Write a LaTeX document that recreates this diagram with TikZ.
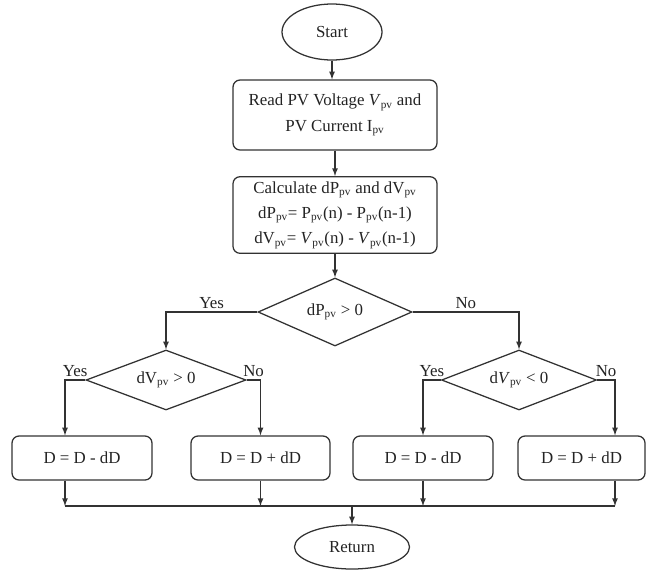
\documentclass[tikz,border=0pt]{standalone}
\usepackage{fontspec}
\setmainfont{Liberation Serif}
\usetikzlibrary{shapes.geometric, arrows, positioning}
\definecolor{linecolor}{RGB}{50,50,50}
\definecolor{textcolor}{RGB}{35,35,35}

\begin{document}
\begin{tikzpicture}[font=\fontsize{12}{18}\selectfont, text=textcolor]
  \tikzset{
    terminal/.style={
      draw=linecolor,
      ellipse,
      line width=0.9pt,
      inner sep=0pt
    },
    process/.style={
      draw=linecolor,
      rounded corners=5pt,
      line width=0.9pt,
      minimum width=5.1cm,
      align=center
    },
    decision/.style={
      draw=linecolor,
      diamond,
      aspect=2.3,
      line width=0.9pt,
      inner sep=0pt
    },
    action/.style={
      draw=linecolor,
      rounded corners=5pt,
      line width=0.9pt,
      minimum height=1.1cm
    },
    flow/.style={
      draw=linecolor,
      line width=0.9pt,
      -latex
    },
    answer/.style={
      above,
      pos=0.25,
      inner sep=2pt
    }
  }
  \useasboundingbox (0,0) rectangle (16.2,-14.225);

  % Start and input
  \node[terminal, minimum width=2.5cm, minimum height=1.4cm] at (8.3,-0.8) (start) {Start};
  \node[process, minimum height=1.75cm] at (8.375,-2.875) (read) {
    Read PV Voltage \textit{V}\textsubscript{pv} and\\
    PV Current I\textsubscript{pv}
  };
  \node[process, minimum height=1.875cm] at (8.375,-5.375) (calc) {
    Calculate dP\textsubscript{pv} and dV\textsubscript{pv}\\
    dP\textsubscript{pv}= P\textsubscript{pv}(n) - P\textsubscript{pv}(n-1)\\
    dV\textsubscript{pv}= \textit{V}\textsubscript{pv}(n) - \textit{V}\textsubscript{pv}(n-1)
  };

  % Decisions
  \node[decision, minimum width=3.85cm, minimum height=1.7cm] at (8.375,-7.8) (dpcheck) {dP\textsubscript{pv} > 0};
  \node[decision, minimum width=4.0cm, minimum height=1.5cm] at (4.15,-9.5) (dvpos) {dV\textsubscript{pv} > 0};
  \node[decision, minimum width=3.875cm, minimum height=1.5cm] at (12.975,-9.5) (dvneg) {d\textit{V}\textsubscript{pv} < 0};

  % Duty cycle updates
  \node[action, minimum width=3.5cm] at (2.05,-11.45) (dec1) {D = D - dD};
  \node[action, minimum width=3.475cm] at (6.5125,-11.45) (inc1) {D = D + dD};
  \node[action, minimum width=3.5cm] at (10.575,-11.45) (dec2) {D = D - dD};
  \node[action, minimum width=3.175cm] at (14.5375,-11.45) (inc2) {D = D + dD};

  \node[terminal, minimum width=2.875cm, minimum height=1.1cm] at (8.8,-13.675) (ret) {Return};

  % Connectors
  \coordinate (leftdrop) at (1.625,-12.65);
  \coordinate (rightdrop) at (15.375,-12.65);

  \draw[flow] (start.south) -- (start.south |- read.north);
  \draw[flow] (read) -- (calc);
  \draw[flow] (calc) -- (dpcheck);
  \draw[flow] (dpcheck.west) -| node[answer] {Yes} (dvpos.north);
  \draw[flow] (dpcheck.east) -| node[answer] {No} (dvneg.north);
  \draw[flow] (dvpos.west) -| node[answer] {Yes} (dec1.north -| leftdrop);
  \draw[flow] (dvpos.east) -| node[answer] {No} (inc1.north);
  \draw[flow] (dvneg.west) -| node[answer] {Yes} (dec2.north);
  \draw[flow] (dvneg.east) -| node[answer] {No} (inc2.north -| rightdrop);

  % Merge into return
  \draw[flow] (dec1.south -| leftdrop) -- (leftdrop);
  \draw[flow] (inc1.south) -- (inc1.south |- leftdrop);
  \draw[flow] (dec2.south) -- (dec2.south |- leftdrop);
  \draw[flow] (inc2.south -| rightdrop) -- (rightdrop);
  \draw[draw=linecolor, line width=0.9pt] (leftdrop) -- (rightdrop);
  \draw[flow] (ret.north |- leftdrop) -- (ret.north);
\end{tikzpicture}
\end{document}
